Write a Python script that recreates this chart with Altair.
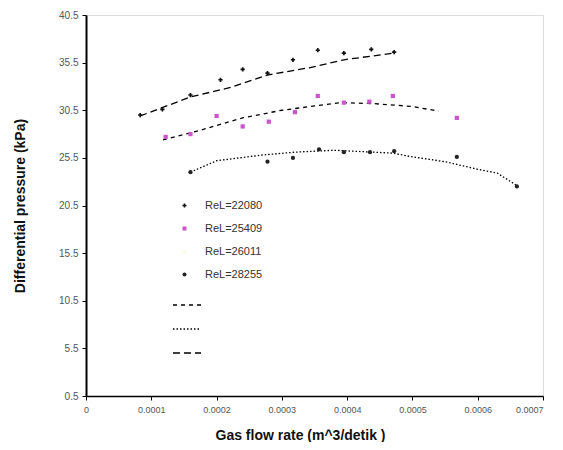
import altair as alt
import pandas as pd

# --- data ---
series_names = ["ReL=22080", "ReL=25409", "ReL=26011", "ReL=28255"]
series_colors = ["#111111", "#cc55cc", "#fdfbe0", "#222222"]
series_shapes = ["cross", "square", "circle", "circle"]

top_x = [0.000083, 0.000117, 0.00016, 0.000206, 0.00024, 0.000278, 0.000317, 0.000355, 0.000395, 0.000437, 0.000472]
top_y = [30.0, 30.6, 32.1, 33.7, 34.8, 34.4, 35.8, 36.8, 36.5, 36.9, 36.6]

mid_x = [0.000122, 0.00016, 0.0002, 0.00024, 0.00028, 0.00032, 0.000355, 0.000395, 0.000434, 0.00047, 0.000568]
mid_y = [27.7, 28.0, 29.9, 28.8, 29.3, 30.3, 32.0, 31.3, 31.4, 32.0, 29.7]

bot_x = [0.00016, 0.000278, 0.000317, 0.000357, 0.000395, 0.000435, 0.000472, 0.000568, 0.00066]
bot_y = [24.0, 25.1, 25.5, 26.4, 26.1, 26.1, 26.2, 25.6, 22.5]

trend_names = ["t1", "t2", "t3"]
trend_dashes = [[4, 4], [1.5, 2], [7, 4]]

# trend for top series (long dashes)
ttop_x = [0.000083, 0.00016, 0.000222, 0.000278, 0.000345, 0.000395, 0.000472]
ttop_y = [29.9, 31.9, 32.9, 34.2, 35.0, 35.8, 36.5]
# trend for middle series (short dashes)
tmid_x = [0.000118, 0.000175, 0.00024, 0.0003, 0.00039, 0.00044, 0.0005, 0.00054]
tmid_y = [27.4, 28.4, 29.7, 30.5, 31.3, 31.2, 30.9, 30.4]
# trend for bottom series (fine dots)
tbot_x = [0.00016, 0.0002, 0.00027, 0.00032, 0.00038, 0.00047, 0.0005, 0.00055, 0.0006, 0.00063, 0.00066]
tbot_y = [24.0, 25.2, 25.8, 26.1, 26.3, 26.0, 25.6, 25.1, 24.3, 23.9, 22.6]

x_ticks = [0, 0.0001, 0.0002, 0.0003, 0.0004, 0.0005, 0.0006, 0.0007]
y_ticks = [0.5, 5.5, 10.5, 15.5, 20.5, 25.5, 30.5, 35.5, 40.5]

pts = pd.DataFrame(
    [{"x": a, "y": b, "s": series_names[0]} for a, b in zip(top_x, top_y)]
    + [{"x": a, "y": b, "s": series_names[1]} for a, b in zip(mid_x, mid_y)]
    + [{"x": a, "y": b, "s": series_names[3]} for a, b in zip(bot_x, bot_y)]
)
lines = pd.DataFrame(
    [{"x": a, "y": b, "t": trend_names[2]} for a, b in zip(ttop_x, ttop_y)]
    + [{"x": a, "y": b, "t": trend_names[0]} for a, b in zip(tmid_x, tmid_y)]
    + [{"x": a, "y": b, "t": trend_names[1]} for a, b in zip(tbot_x, tbot_y)]
)

FONT = "Liberation Sans"

xs = alt.Scale(domain=[0, 0.0007], nice=False, zero=False)
ys = alt.Scale(domain=[0.5, 40.5], nice=False, zero=False)

xaxis = alt.Axis(values=x_ticks, format=".4~f", title="Gas flow rate (m^3/detik )",
                 grid=False, domainColor="black", domainWidth=1.5, tickColor="black",
                 tickSize=4, labelColor="#555555", labelFontSize=9, labelFont=FONT,
                 labelPadding=5, titleFont=FONT, titleFontSize=14, titleFontWeight="bold",
                 titleColor="#111111", titlePadding=14, titleX=214, labelFlush=False,
                 labelAlign={"expr": "datum.value > 0.00065 ? 'right' : 'center'"})
yaxis = alt.Axis(values=y_ticks, format=".1f", title="Differential pressure (kPa)",
                 grid=False, domainColor="black", domainWidth=2, tickColor="black",
                 tickSize=4, labelColor="#555555", labelFontSize=10, labelFont=FONT,
                 labelPadding=4, titleFont=FONT, titleFontSize=14, titleFontWeight="bold",
                 titleColor="#111111", titlePadding=31, labelFlush=False)

points = alt.Chart(pts).mark_point(filled=True, size=18, opacity=1).encode(
    x=alt.X("x:Q", scale=xs, axis=xaxis),
    y=alt.Y("y:Q", scale=ys, axis=yaxis),
    color=alt.Color("s:N", scale=alt.Scale(domain=series_names, range=series_colors),
                    legend=alt.Legend(title=None, orient="none", legendX=93, legendY=185,
                                      labelFont=FONT, labelFontSize=11, labelColor="#333333",
                                      symbolSize=16, rowPadding=11, padding=0, labelOffset=15)),
    shape=alt.Shape("s:N", scale=alt.Scale(domain=series_names, range=series_shapes), legend=None),
)

trend = alt.Chart(lines).mark_line(color="black", strokeWidth=1.3).encode(
    x=alt.X("x:Q", scale=xs),
    y=alt.Y("y:Q", scale=ys),
    strokeDash=alt.StrokeDash("t:N", scale=alt.Scale(domain=trend_names, range=trend_dashes),
                              legend=alt.Legend(title=None, orient="none", legendX=86, legendY=275,
                                                labelExpr="''", symbolSize=784, symbolStrokeWidth=1.3,
                                                symbolStrokeColor="black", rowPadding=4, padding=0)),
)

chart = alt.layer(trend, points).properties(
    width=457, height=381,
    autosize=alt.AutoSizeParams(type="none"),
    padding={"left": 78, "top": 7, "right": 12, "bottom": 46},
).configure_view(stroke=None).configure(background="white")

chart.save("out.html", embed_options={"renderer": "svg", "actions": False})
